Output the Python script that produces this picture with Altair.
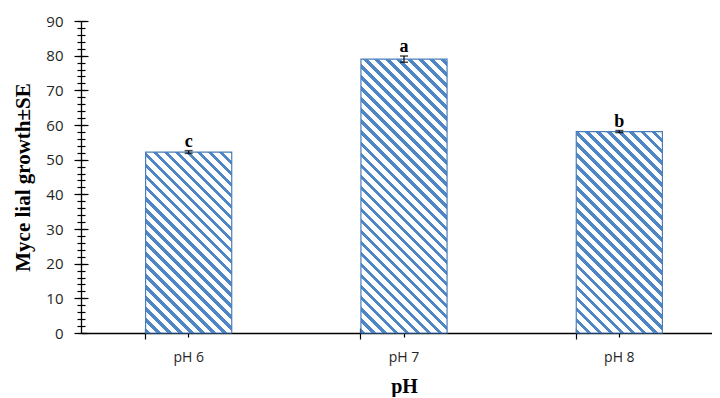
import math
import altair as alt
import pandas as pd

# ---- data ----
categories = ["pH 6", "pH 7", "pH 8"]
growth = [52.2, 79.0, 58.1]
se = [0.4, 0.9, 0.3]
letters = ["c", "a", "b"]

df = pd.DataFrame({"pH": categories, "value": growth, "se": se, "letter": letters})

# ---- layout / style ----
PLOT_H = 312
X_RANGE = 646
BAND = X_RANGE / 3 * 0.4
BLUE = "#4f86c6"
BORDER = "#4a7ebb"
PERIOD = 7.8
STRIPE = 3.2


def hatch(value):
    """Linear gradient with hard stops that draws 45 degree stripes on a bar."""
    w = BAND
    h = value * PLOT_H / 90.0
    L = (w + h) / math.sqrt(2)
    k = (w + h) / (w * w + h * h)
    stops = []
    pos = 0.0
    while pos < L:
        a = pos / L
        b = min((pos + STRIPE) / L, 1.0)
        c = min((pos + PERIOD) / L, 1.0)
        stops += [
            {"offset": a, "color": BLUE},
            {"offset": b, "color": BLUE},
            {"offset": b, "color": "white"},
            {"offset": c, "color": "white"},
        ]
        pos += PERIOD
    return {"gradient": "linear", "x1": 0, "y1": 1, "x2": k * w, "y2": 1 - k * h, "stops": stops}


xscale = alt.Scale(domain=categories, range=[0, X_RANGE], paddingInner=0.6, paddingOuter=0.3)
yscale = alt.Scale(domain=[0, 90], nice=False, zero=True)

major = list(range(0, 91, 10))
minor = list(range(0, 91, 2))


def blank_axis(**kw):
    base = dict(labels=False, domain=False, title=None, grid=False, tickColor="black", tickWidth=1.2)
    base.update(kw)
    return alt.Axis(**base)


x_main = alt.Axis(
    orient="bottom", title="pH", titleFont="Liberation Serif", titleFontSize=20,
    titleFontWeight="bold", titleColor="black", titlePadding=12,
    labelFont="Open Sans", labelFontSize=14, labelColor="#262626", labelPadding=13,
    labelAngle=0, tickSize=4, tickColor="black", tickWidth=1.2, domainColor="black", domainWidth=1.3,
    grid=False,
)
y_main = alt.Axis(
    orient="left", values=major, title="Myce lial growth±SE", titleFont="Liberation Serif",
    titleFontSize=21, titleFontWeight="bold", titleColor="black", titlePadding=12,
    labelFont="Open Sans", labelFontSize=15, labelColor="#262626", labelPadding=11,
    tickSize=7, tickColor="black", tickWidth=1.2, domainColor="black", domainWidth=1.3, grid=False,
)

base = alt.Chart(df)


def bars(cat, xaxis, yaxis):
    val = growth[categories.index(cat)]
    return base.transform_filter(alt.datum.pH == cat).mark_bar(
        fill=hatch(val), stroke=BORDER, strokeWidth=1.2
    ).encode(
        x=alt.X("pH:N", scale=xscale, axis=xaxis),
        y=alt.Y("value:Q", scale=yscale, axis=yaxis),
    )


l1 = bars("pH 6", x_main, y_main)
l2 = bars("pH 7",
          blank_axis(orient="bottom", bandPosition=0, tickSize=6),
          blank_axis(orient="left", values=major, tickSize=7, offset=-7))
l3 = bars("pH 8",
          blank_axis(orient="bottom", bandPosition=0, tickSize=5, offset=-5),
          blank_axis(orient="left", values=minor, tickSize=4))

err = base.transform_calculate(lo="datum.value - datum.se", hi="datum.value + datum.se")

l4 = err.mark_rule(color="black", strokeWidth=1.2).encode(
    x=alt.X("pH:N", scale=xscale, axis=blank_axis(orient="bottom", tickSize=4, offset=-4)),
    y=alt.Y("lo:Q", scale=yscale, axis=blank_axis(orient="left", values=minor, tickSize=4, offset=-4)),
    y2="hi:Q",
)
caps_hi = err.mark_tick(color="black", size=8, thickness=1.5).encode(
    x=alt.X("pH:N", scale=xscale, axis=None),
    y=alt.Y("hi:Q", scale=yscale, axis=None),
)
caps_lo = err.mark_tick(color="black", size=8, thickness=1.5).encode(
    x=alt.X("pH:N", scale=xscale, axis=None),
    y=alt.Y("lo:Q", scale=yscale, axis=None),
)
labels = err.mark_text(
    font="Liberation Serif", fontSize=18, fontWeight="bold", color="black",
    baseline="alphabetic", dy=-4,
).encode(
    x=alt.X("pH:N", scale=xscale, axis=None),
    y=alt.Y("hi:Q", scale=yscale, axis=None),
    text="letter:N",
)

chart = alt.layer(l1, l2, l3, l4, caps_hi, caps_lo, labels).resolve_axis(
    x="independent", y="independent"
).properties(
    width=631, height=PLOT_H,
    autosize=alt.AutoSizeParams(type="none"),
    padding={"left": 73, "top": 13, "right": 0, "bottom": 64},
).configure_view(stroke=None)

chart.save("out.html", embed_options={"renderer": "svg", "actions": False})
